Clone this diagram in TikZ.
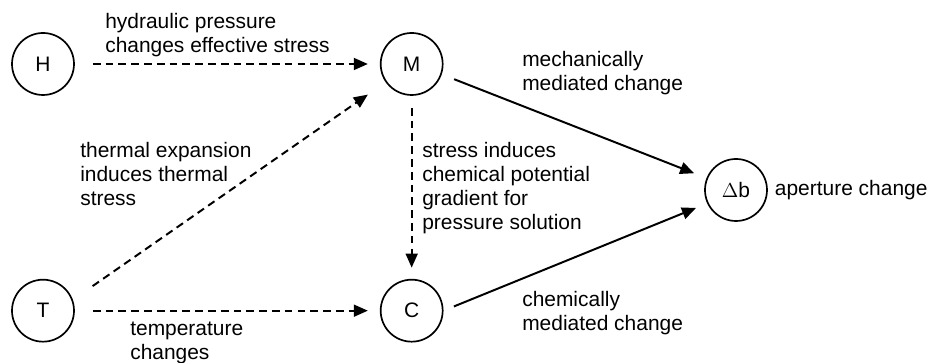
\documentclass[tikz,border=0pt]{standalone}
\usepackage{fontspec}
\setmainfont{Liberation Sans}
\usetikzlibrary{arrows.meta,positioning}

\begin{document}
\begin{tikzpicture}[
  node distance=4.575cm and 7.625cm,
  every node/.style={font=\fontsize{14.9pt}{17.1pt}\selectfont},
  var/.style={
    draw=black,
    line width=1.2pt,
    circle,
    minimum size=1.55cm,
    inner sep=0pt
  },
  lbl/.style={
    align=left,
    inner sep=0pt,
    anchor=base west
  },
  link/.style={-{Triangle[length=10pt, width=8.5pt]}, line width=1.4pt, draw=black},
  coupling/.style={link, dash pattern=on 5.5pt off 3.6pt}
]
\useasboundingbox (0,0) rectangle (23.225,9.075);

\node[var] (H) at (1.075,7.475) {H};
\node[var, right=of H] (M) {M};
\node[var, below=of H] (T) {T};
\node[var, right=of T] (C) {C};
\node[var] (Db) at (18.4,4.325) {$\Delta$b};

% labels are placed at the baseline of their last line
\node[lbl] (hydro) at (2.625,7.75) {hydraulic pressure\\changes effective stress};
\node[lbl] (thermal) at (2.0,3.925) {thermal expansion\\induces thermal\\stress};
\node[lbl] (stress) at (10.55,3.325) {stress induces\\chemical potential\\gradient for\\pressure solution};
\node[lbl] (temp) at (3.25,0.08) {temperature\\changes};
\node[lbl] (mech) at (13.05,6.8) {mechanically\\mediated change};
\node[lbl] (chem) at (13.05,0.8) {chemically\\mediated change};
\node[right=0.17cm of Db, inner sep=0pt] (aperture) {aperture change};

\draw[coupling, shorten <=0.45cm, shorten >=0.3cm] (H.east) -- (M.west);
\draw[coupling, shorten <=0.45cm, shorten >=0.3cm] (T.east) -- (C.west);
\draw[coupling, shorten <=0.6cm, shorten >=0.54cm] (T.20) -- (M.-145);
\draw[coupling, shorten <=0.3cm, shorten >=0.28cm] (M.south) -- (C.north);
\draw[link, shorten <=0.33cm, shorten >=0.33cm] (M.-19) -- (Db.158);
\draw[link, shorten <=0.28cm, shorten >=0.3cm] (C.0) -- (Db.-155);
\end{tikzpicture}
\end{document}
